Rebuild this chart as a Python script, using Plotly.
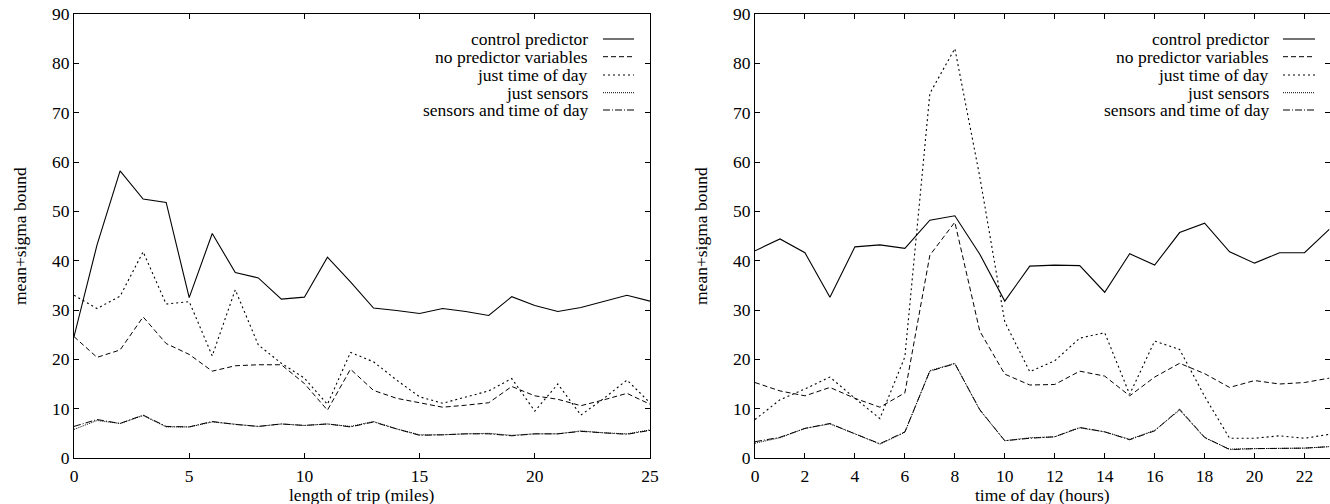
import plotly.graph_objects as go

# ---------------- data ----------------
trip_miles = list(range(0, 26))
trip_control = [24.6, 43.2, 58.2, 52.5, 51.8, 32.5, 45.5, 37.6, 36.5, 32.2, 32.6, 40.7, 35.7,
                30.4, 29.9, 29.3, 30.3, 29.7, 28.9, 32.7, 30.9, 29.7, 30.5, 31.8, 33.0, 31.8]
trip_nopred = [24.6, 20.4, 21.9, 28.6, 23.2, 21.0, 17.6, 18.7, 18.9, 18.9, 15.1, 9.7, 18.0,
               13.7, 12.1, 11.2, 10.3, 10.7, 11.2, 14.5, 12.6, 11.9, 10.6, 11.8, 13.1, 10.9]
trip_tod = [33.0, 30.3, 32.8, 41.8, 31.2, 31.7, 20.7, 34.1, 22.9, 19.2, 16.2, 10.9, 21.4,
            19.5, 15.8, 12.4, 11.1, 12.3, 13.6, 16.1, 9.5, 15.0, 8.7, 12.1, 15.8, 11.2]
trip_sensors = [5.8, 7.6, 7.0, 8.6, 6.3, 6.3, 7.3, 6.8, 6.4, 6.9, 6.6, 6.9, 6.4,
                7.4, 5.9, 4.7, 4.7, 4.9, 5.0, 4.6, 4.9, 4.9, 5.5, 5.1, 4.9, 5.7]
trip_sens_tod = [6.4, 7.8, 7.0, 8.7, 6.4, 6.3, 7.4, 6.8, 6.4, 6.9, 6.6, 6.9, 6.3,
                 7.3, 5.9, 4.6, 4.7, 4.9, 4.9, 4.5, 4.9, 4.9, 5.4, 5.1, 4.8, 5.6]

hours = list(range(0, 24))
hour_control = [42.0, 44.4, 41.6, 32.6, 42.8, 43.2, 42.5, 48.2, 49.1, 41.3, 31.8, 38.9,
                39.1, 39.0, 33.6, 41.4, 39.1, 45.7, 47.6, 41.8, 39.5, 41.6, 41.6, 46.4]
hour_nopred = [15.3, 13.6, 12.6, 14.3, 12.1, 10.3, 13.2, 41.1, 47.8, 25.7, 17.0, 14.8,
               14.9, 17.6, 16.6, 12.6, 16.4, 19.2, 17.1, 14.3, 15.7, 15.0, 15.3, 16.2]
hour_tod = [7.8, 11.8, 14.0, 16.4, 12.1, 8.0, 20.5, 73.9, 83.0, 57.0, 27.6, 17.5,
            19.7, 24.3, 25.4, 12.9, 23.7, 22.0, 12.5, 4.0, 4.0, 4.5, 4.0, 4.8]
hour_sensors = [3.0, 4.1, 6.0, 6.9, 4.9, 2.8, 5.2, 17.7, 19.2, 9.7, 3.5, 4.1,
                4.3, 6.1, 5.3, 3.8, 5.6, 9.7, 4.1, 1.8, 1.9, 2.0, 2.0, 2.3]
hour_sens_tod = [3.3, 4.2, 6.0, 7.0, 4.9, 2.9, 5.3, 17.6, 19.1, 9.8, 3.5, 4.0,
                 4.3, 6.2, 5.3, 3.7, 5.5, 9.9, 4.2, 1.7, 1.9, 2.0, 2.0, 2.3]

series_names = ["control predictor", "no predictor variables", "just time of day",
                "just sensors", "sensors and time of day"]
y_ticks = [0, 10, 20, 30, 40, 50, 60, 70, 80, 90]
trip_ticks = [0, 5, 10, 15, 20, 25]
hour_ticks = [0, 2, 4, 6, 8, 10, 12, 14, 16, 18, 20, 22]

# ---------------- styling ----------------
W, H = 1330, 504
FONT = "Liberation Serif"
FS = 17.5
dashes = ["solid", "5px,3px", "2px,3px", "1px,1px", "7px,2px,1px,2px"]
widths = [1.1, 1.0, 1.1, 1.0, 1.0]


def px_x(v):
    return v / W


def px_y(v):
    return (H - v) / H


fig = go.Figure()

panels = [
    ("x", "y", trip_miles, [trip_control, trip_nopred, trip_tod, trip_sensors, trip_sens_tod]),
    ("x2", "y2", hours, [hour_control, hour_nopred, hour_tod, hour_sensors, hour_sens_tod]),
]
for xa, ya, xs, ys_list in panels:
    for i, ys in enumerate(ys_list):
        fig.add_trace(go.Scatter(
            x=xs, y=ys, mode="lines", name=series_names[i], showlegend=False,
            xaxis=xa, yaxis=ya, hoverinfo="skip",
            line=dict(color="black", width=widths[i], dash=dashes[i]),
        ))

ydom = [px_y(458), px_y(14)]
left_dom = [px_x(74), px_x(650)]
right_dom = [px_x(755), px_x(1329.5)]

axis_common = dict(
    showline=True, linecolor="black", linewidth=1, mirror="allticks",
    ticks="inside", ticklen=5, tickcolor="black", tickwidth=1,
    showgrid=False, zeroline=False, automargin=False, ticklabeloverflow="allow",
    tickfont=dict(family=FONT, size=FS, color="black"),
)

fig.update_layout(
    width=W, height=H,
    margin=dict(l=0, r=0, t=0, b=0, pad=0),
    paper_bgcolor="white", plot_bgcolor="white",
    font=dict(family=FONT, size=FS, color="black"),
    xaxis=dict(domain=left_dom, range=[0, 25], tickvals=trip_ticks, anchor="y",
               ticklabelstandoff=2, **axis_common),
    yaxis=dict(domain=ydom, range=[0, 90], tickvals=y_ticks, anchor="x", **axis_common),
    xaxis2=dict(domain=right_dom, range=[0, 23], tickvals=hour_ticks, anchor="y2",
                ticklabelstandoff=2, **axis_common),
    yaxis2=dict(domain=ydom, range=[0, 90], tickvals=y_ticks, anchor="x2", **axis_common),
    showlegend=False,
)

# axis titles
annotations = [
    dict(text="length of trip (miles)", x=px_x(362), y=px_y(495),
         xref="paper", yref="paper", showarrow=False, xanchor="center", yanchor="middle",
         font=dict(family=FONT, size=FS)),
    dict(text="time of day (hours)", x=px_x(1042), y=px_y(495),
         xref="paper", yref="paper", showarrow=False, xanchor="center", yanchor="middle",
         font=dict(family=FONT, size=FS)),
    dict(text="mean+sigma bound", x=px_x(20), y=px_y(236), textangle=-90,
         xref="paper", yref="paper", showarrow=False, xanchor="center", yanchor="middle",
         font=dict(family=FONT, size=FS)),
    dict(text="mean+sigma bound", x=px_x(701), y=px_y(236), textangle=-90,
         xref="paper", yref="paper", showarrow=False, xanchor="center", yanchor="middle",
         font=dict(family=FONT, size=FS)),
]

# manual legends (gnuplot style: right-aligned text, sample to the right)
legend_rows_px = [39, 56.7, 75, 92.7, 110]
shapes = []
for text_r, s0, s1 in [(590, 603, 634), (1271, 1283, 1315)]:
    for i, name in enumerate(series_names):
        yy = px_y(legend_rows_px[i])
        annotations.append(dict(
            text=name, x=px_x(text_r), y=yy,
            xref="paper", yref="paper", showarrow=False,
            xanchor="right", yanchor="middle", font=dict(family=FONT, size=FS)))
        shapes.append(dict(
            type="line", xref="paper", yref="paper",
            x0=px_x(s0), x1=px_x(s1), y0=yy, y1=yy,
            line=dict(color="black", width=widths[i], dash=dashes[i])))

fig.update_layout(annotations=annotations, shapes=shapes)
# remove the default page margin so the 1330x504 figure fills the window exactly
fig.write_html("out.html",
               config={"displayModeBar": False, "staticPlot": True},
               post_script="document.body.style.margin='0';document.body.style.overflow='hidden';")
